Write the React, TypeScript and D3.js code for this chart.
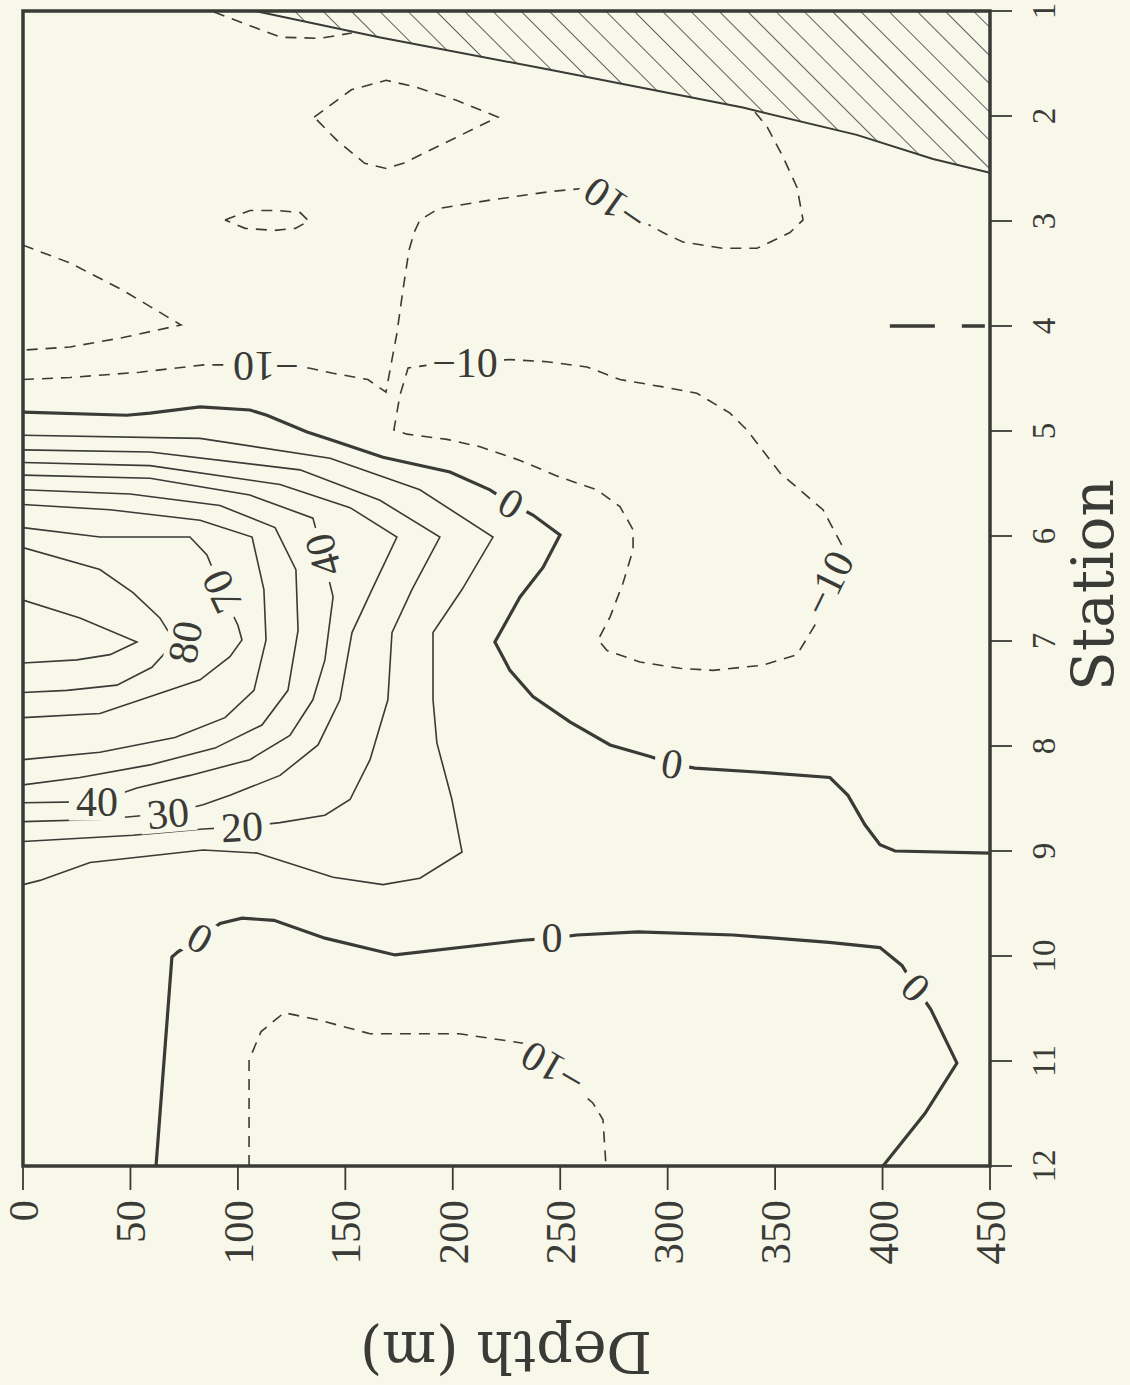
import React from 'react';
import * as d3 from 'd3';

// ---------- axes ----------
const stationTicks = [1, 2, 3, 4, 5, 6, 7, 8, 9, 10, 11, 12];
const depthTicks = [0, 50, 100, 150, 200, 250, 300, 350, 400, 450];

// ---------- sea floor (station, depth) ----------
const seaFloor: [number, number][] = [
  [1.0, 108], [1.25, 165.7], [1.56, 245.2], [1.92, 335], [2.18, 388], [2.41, 423.5], [2.54, 450],
];

// ---------- -10 contours (dashed) ----------
const negA: [number, number][] = [[1.01, 88.9], [1.14, 105.6], [1.25, 120], [1.26, 138.2], [1.21, 153]];
const negB: [number, number][] = [
  [2.01, 135.5], [1.75, 152.8], [1.66, 169], [1.72, 182], [1.85, 201.7], [2.01, 221],
  [2.45, 177], [2.5, 169], [2.45, 159], [2.23, 146], [2.01, 135.5],
];
const negC: [number, number][] = [
  [2.99, 94], [2.9, 105.7], [2.9, 118.3], [2.92, 129], [3.0, 133], [3.07, 126.7], [3.09, 117], [3.07, 103.4], [2.99, 94],
];
const negD: [number, number][] = [
  [4.51, 0], [4.49, 21.9], [4.44, 54.4], [4.37, 84.2], [4.37, 105.6], [4.4, 120], [4.4, 133], [4.45, 144.3],
  [4.51, 160.5], [4.63, 168.9], [4.32, 171.7], [4.07, 174], [3.66, 176.8], [3.28, 179.6], [3.11, 182],
  [2.99, 184.7], [2.88, 193.6], [2.8, 217.8], [2.72, 245.2], [2.69, 260.6], [2.85, 275.5], [2.99, 287.1],
  [3.11, 297.8], [3.2, 307.1], [3.26, 325.7], [3.26, 341.6], [3.11, 356.9], [2.99, 363], [2.68, 360.2],
  [2.39, 353.7], [2.1, 346.2], [1.94, 339.7],
];
const negE: [number, number][] = [
  [4.37, 189.4], [4.4, 179.2], [4.66, 175.4], [4.99, 172.6], [5.03, 178.7], [5.08, 197.3], [5.15, 212.7],
  [5.28, 231.3], [5.44, 249.9], [5.56, 267.1], [5.72, 277.8], [5.94, 283.9], [6.13, 283.9], [6.45, 279.2],
  [6.77, 273.2], [6.99, 267.6], [7.09, 271.8], [7.2, 287.1], [7.26, 305.7], [7.28, 321.1], [7.23, 344.3],
  [7.13, 360.2], [6.85, 368.5], [6.45, 374.6], [6.09, 381.1], [5.75, 372.3], [5.4, 352.3], [4.99, 336.9],
  [4.83, 329], [4.64, 313.6], [4.58, 297.8], [4.51, 277.8], [4.39, 262.4], [4.34, 243.8], [4.32, 226.6],
  [4.34, 206.6], [4.37, 189.4],
];
const negF: [number, number][] = [
  [3.23, 0], [3.4, 21.9], [3.66, 46.5], [3.99, 73.5], [4.11, 46.5], [4.2, 21.9], [4.23, 0],
];
const negG: [number, number][] = [
  [12, 105.2], [10.99, 105.2], [10.72, 110.8], [10.54, 121.5], [10.61, 137.7], [10.74, 161.5], [10.74, 202.9],
  [10.83, 232.7], [11.05, 245.2], [11.4, 265.2], [11.56, 269.9], [12, 271.3],
];
const negSmall: [number, number][] = [[4.0, 403.4], [4.0, 447.6]];

// ---------- zero contours (thick) ----------
const zeroUpper: [number, number][] = [
  [4.82, 0], [4.85, 48.4], [4.83, 59.1], [4.77, 82.4], [4.8, 105.6], [4.85, 113.5], [5.01, 132.2],
  [5.09, 144.3], [5.25, 167.5], [5.39, 198.7], [5.56, 217.3], [5.69, 227.1], [5.8, 237.3], [5.99, 249.9],
  [6.3, 242], [6.58, 231.3], [7.01, 219.6], [7.28, 226.6], [7.53, 237.3], [7.77, 254.5], [7.99, 273.2],
  [8.1, 291.8], [8.17, 302], [8.21, 312.7], [8.25, 343], [8.3, 375.5], [8.47, 383.9], [8.75, 391.8],
  [8.94, 398.8], [9.0, 405.8], [9.02, 450],
];
const zeroLower: [number, number][] = [
  [12, 61.9], [10.01, 69.3], [9.96, 72.1], [9.83, 82.4], [9.69, 91.7], [9.64, 101.9], [9.66, 116.8],
  [9.83, 140.5], [9.99, 173.1], [9.85, 232.7], [9.83, 246.2], [9.8, 257.8], [9.77, 286.2], [9.8, 330.4],
  [9.87, 375.1], [9.92, 398.8], [10.09, 409], [10.3, 415.5], [10.51, 422.5], [11.02, 434.6], [11.5, 419.7],
  [12, 400.2],
];

// ---------- positive contours (thin) ----------
const pos10: [number, number][] = [
  [5.04, 0], [5.07, 82.4], [5.26, 142.9], [5.56, 184.7], [6.01, 218.7], [6.51, 204.3], [6.92, 190.8],
  [7.56, 190.8], [7.97, 192.6], [8.51, 199.6], [9.01, 204.3], [9.26, 184.7], [9.32, 167.5], [9.25, 144.3],
  [9.02, 108.9], [8.99, 83.8], [9.11, 31.2], [9.28, 7.9], [9.32, 0],
];
const pos20: [number, number][] = [
  [5.18, 0], [5.2, 59.1], [5.37, 128.9], [5.66, 166.1], [6.01, 194], [6.51, 181], [6.92, 171.7],
  [7.56, 169.8], [8.13, 161.5], [8.51, 152.2], [8.66, 140.5], [8.73, 119.6], [8.77, 101.9], [8.79, 83.8],
  [8.85, 51.2], [8.91, 0],
];
const pos30: [number, number][] = [
  [5.3, 0], [5.33, 59.1], [5.51, 119.6], [5.73, 152.2], [6.01, 174], [6.51, 162.4], [6.92, 153.1],
  [7.56, 147.5], [7.99, 137.3], [8.28, 119.6], [8.47, 96.3], [8.56, 83.8], [8.64, 67.5], [8.7, 35.8], [8.72, 0],
];
const pos40: [number, number][] = [
  [5.42, 0], [5.45, 59.1], [5.61, 105.6], [5.83, 134.9], [6.18, 139.6], [6.58, 144.3], [7.18, 140.5],
  [7.56, 134.9], [7.9, 124.2], [8.13, 105.6], [8.28, 77.7], [8.4, 53], [8.53, 34.4], [8.54, 0],
];
const pos50: [number, number][] = [
  [5.56, 0], [5.6, 49.8], [5.71, 91.7], [5.92, 117.3], [6.32, 127], [6.9, 128], [7.47, 123.3],
  [7.8, 111.2], [8.02, 89.3], [8.18, 59.1], [8.3, 26.5], [8.37, 0],
];
const pos60: [number, number][] = [
  [5.7, 0], [5.75, 40.5], [5.85, 82.4], [6.01, 106.6], [6.51, 112.1], [6.99, 113.1], [7.47, 107.5],
  [7.73, 94], [7.92, 70.7], [8.06, 35.8], [8.13, 0],
];
const pos70: [number, number][] = [
  [5.92, 0], [6.01, 35.8], [6.01, 77.7], [6.18, 85.6], [6.53, 92.6], [6.85, 100], [6.99, 101.9],
  [7.15, 96.3], [7.37, 82.4], [7.69, 35.8], [7.73, 0],
];
const pos80: [number, number][] = [
  [6.11, 0], [6.32, 35.8], [6.54, 51.2], [6.78, 63.7], [7.01, 70.7], [7.25, 60], [7.42, 43.7], [7.47, 20.5], [7.49, 0],
];
const pos90: [number, number][] = [
  [6.61, 0], [6.78, 26.5], [7.01, 53], [7.13, 40.5], [7.18, 25.1], [7.21, 0],
];

// ---------- labels ----------
const labelText = ['−10', '−10', '−10', '−10', '−10', '0', '0', '0', '0', '0', '40', '70', '80', '40', '30', '20'];
const labelStation = [4.38, 4.35, 2.85, 6.45, 11.07, 5.69, 8.17, 9.83, 9.83, 10.3, 6.18, 6.53, 7.01, 8.53, 8.64, 8.77];
const labelDepth = [113, 205.7, 275.5, 374.6, 246.6, 227.1, 302, 82.4, 246.2, 415.5, 139.6, 92.6, 75.4, 34.4, 67.5, 101.9];
const labelAngle = [180, 0, 215, -64, 210, 30, 10, 30, 0, 45, -105, -115, -80, 0, -5, -3];

const W = 1130;
const H = 1385;
const BG = '#f7f7ea';
const INK = '#3a3a36';

export default function App() {
  const x = d3.scaleLinear().domain([0, 450]).range([23, 990]);
  const y = d3.scaleLinear().domain([1, 12]).range([11, 1166]);
  const line = d3
    .line<[number, number]>()
    .x((p) => x(p[1]))
    .y((p) => y(p[0]))
    .curve(d3.curveLinear);

  const floorPoly: [number, number][] = [...seaFloor, [1.0, 450]];

  const dashed = [negA, negB, negC, negD, negE, negF, negG];
  const thin = [pos10, pos20, pos30, pos40, pos50, pos60, pos70, pos80, pos90];
  const thick = [zeroUpper, zeroLower];

  return (
    <svg width={W} height={H} style={{ display: 'block', position: 'absolute', left: 0, top: 0, background: BG }}>
      <defs>
        <pattern id="hatch" width="20" height="20" patternUnits="userSpaceOnUse" patternTransform="rotate(-45)">
          <line x1="0" y1="0" x2="0" y2="20" stroke={INK} strokeWidth="1.6" />
        </pattern>
        <clipPath id="plotClip">
          <rect x={x(0)} y={y(1)} width={x(450) - x(0)} height={y(12) - y(1)} />
        </clipPath>
      </defs>
      <rect x={0} y={0} width={W} height={H} fill={BG} />
      <g clipPath="url(#plotClip)">
        <path d={line(floorPoly) + 'Z'} fill="url(#hatch)" stroke="none" />
        <path d={line(seaFloor) || ''} fill="none" stroke={INK} strokeWidth={2} />
        {dashed.map((c, i) => (
          <path key={'d' + i} d={line(c) || ''} fill="none" stroke={INK} strokeWidth={1.6} strokeDasharray="11 8" />
        ))}
        <path d={line(negSmall) || ''} fill="none" stroke={INK} strokeWidth={3.5} strokeDasharray="45 27 23 40" />
        {thin.map((c, i) => (
          <path key={'t' + i} d={line(c) || ''} fill="none" stroke={INK} strokeWidth={1.6} />
        ))}
        {thick.map((c, i) => (
          <path key={'k' + i} d={line(c) || ''} fill="none" stroke={INK} strokeWidth={3.2} />
        ))}
        {labelText.map((t, i) => {
          const cx = x(labelDepth[i]);
          const cy = y(labelStation[i]);
          const w = t.length * 21 + 14;
          return (
            <g key={'l' + i} transform={`translate(${cx},${cy}) rotate(${labelAngle[i]})`}>
              <rect x={-w / 2} y={-19} width={w} height={38} fill={BG} />
              <text
                textAnchor="middle"
                dy="0.34em"
                fontFamily="'Liberation Serif', serif"
                fontSize={42}
                fill={INK}
              >
                {t}
              </text>
            </g>
          );
        })}
      </g>
      {/* frame */}
      <rect x={x(0)} y={y(1)} width={x(450) - x(0)} height={y(12) - y(1)} fill="none" stroke={INK} strokeWidth={3.5} />
      {/* depth ticks (bottom) */}
      {depthTicks.map((d) => (
        <g key={'dt' + d}>
          <line x1={x(d)} x2={x(d)} y1={y(12)} y2={y(12) + 24} stroke={INK} strokeWidth={1.8} />
          <text
            transform={`translate(${x(d) + 15},${y(12) + 34}) rotate(-90)`}
            textAnchor="end"
            fontFamily="'Liberation Serif', serif"
            fontSize={43}
            fill={INK}
          >
            {d}
          </text>
        </g>
      ))}
      {/* station ticks (right) */}
      {stationTicks.map((s) => (
        <g key={'st' + s}>
          <line x1={x(450)} x2={x(450) + 22} y1={y(s)} y2={y(s)} stroke={INK} strokeWidth={1.8} />
          <text
            transform={`translate(${x(450) + 65},${y(s)}) rotate(-90)`}
            textAnchor="middle"
            fontFamily="'Liberation Serif', serif"
            fontSize={33}
            fill={INK}
          >
            {s}
          </text>
        </g>
      ))}
      <text
        transform={`translate(1113,585) rotate(-90)`}
        textAnchor="middle"
        fontFamily="'DejaVu Serif', serif"
        fontSize={58}
        fill={INK}
      >
        Station
      </text>
      <text
        transform={`translate(506,1332) rotate(180)`}
        textAnchor="middle"
        fontFamily="'DejaVu Serif', serif"
        fontSize={57}
        fill={INK}
      >
        Depth (m)
      </text>
    </svg>
  );
}
